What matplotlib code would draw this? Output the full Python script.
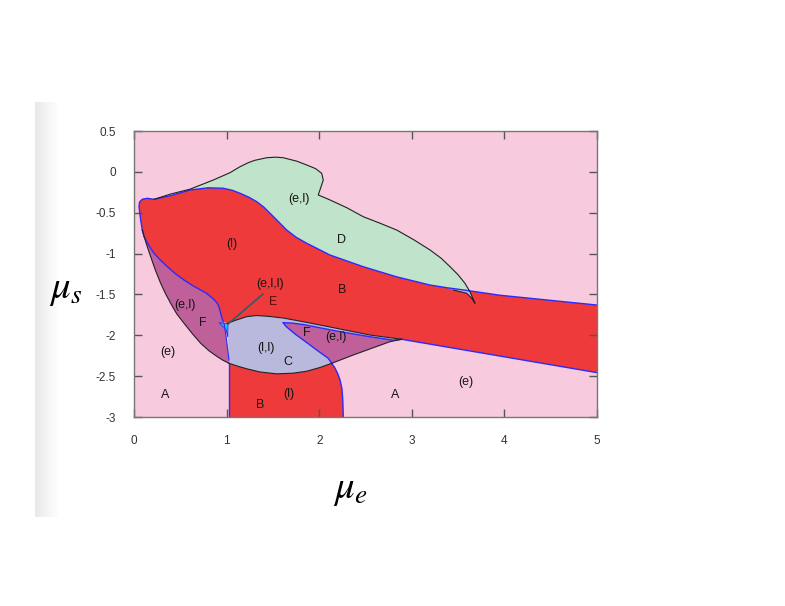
import matplotlib
matplotlib.use("Agg")
import matplotlib.pyplot as plt
import numpy as np

plt.rcParams['mathtext.fontset'] = 'stix'
plt.rcParams['font.family'] = ['Liberation Sans', 'DejaVu Sans']

# region boundaries (mu_e, mu_s)
red_top_x = [0.090, 0.072, 0.054, 0.060, 0.090, 0.144, 0.216, 0.400, 0.605, 0.800, 0.964, 1.060, 1.145,
             1.240, 1.325, 1.400, 1.469, 1.560, 1.649, 1.750, 1.865, 2.117, 2.476, 2.837, 3.197, 3.377,
             3.556, 3.952, 5.0]
red_top_y = [-0.712, -0.589, -0.426, -0.370, -0.335, -0.324, -0.336, -0.290, -0.222, -0.195, -0.201,
             -0.225, -0.262, -0.310, -0.365, -0.430, -0.507, -0.610, -0.712, -0.800, -0.874, -1.018,
             -1.161, -1.285, -1.385, -1.418, -1.445, -1.510, -1.630]
red_bot_x = [5.0, 2.891]
red_bot_y = [-2.457, -2.049]

green_top_x = [0.216, 0.400, 0.605, 0.856, 1.037, 1.145, 1.230, 1.300, 1.433, 1.530, 1.612, 1.760, 1.865,
               1.960, 2.027, 2.044, 1.990, 2.117, 2.300, 2.476, 2.660, 2.837, 3.020, 3.197, 3.320, 3.413,
               3.500, 3.574, 3.628, 3.683]
green_top_y = [-0.336, -0.270, -0.212, -0.100, -0.010, 0.063, 0.110, 0.140, 0.173, 0.180, 0.173, 0.130,
               0.084, 0.040, -0.018, -0.100, -0.283, -0.344, -0.440, -0.549, -0.630, -0.712, -0.830,
               -0.956, -1.060, -1.161, -1.260, -1.364, -1.467, -1.609]
horn_x = [3.683, 3.647, 3.593, 3.448, 3.377, 3.556, 3.620]
horn_y = [-1.609, -1.547, -1.486, -1.446, -1.418, -1.445, -1.455]

fl_top_x = [0.090, 0.108, 0.160, 0.216, 0.290, 0.360, 0.450, 0.540, 0.630, 0.720, 0.780, 0.828, 0.870,
            0.900, 0.922, 0.936, 0.950, 0.964]
fl_top_y = [-0.712, -0.794, -0.900, -0.997, -1.085, -1.161, -1.250, -1.324, -1.390, -1.446, -1.484,
            -1.528, -1.570, -1.609, -1.665, -1.731, -1.790, -1.834]
fl_out_x = [0.090, 0.130, 0.180, 0.230, 0.288, 0.340, 0.396, 0.460, 0.540, 0.630, 0.720, 0.810, 0.900,
            0.960, 1.026]
fl_out_y = [-0.712, -0.870, -1.038, -1.200, -1.364, -1.490, -1.609, -1.735, -1.853, -1.980, -2.098,
            -2.190, -2.262, -2.305, -2.343]
fl_right_x = [1.026, 1.008, 0.990, 0.972]
fl_right_y = [-2.303, -2.140, -1.976, -1.853]

c_top_x = [1.008, 1.101, 1.217, 1.325, 1.469, 1.612, 1.828, 2.189, 2.549, 2.891]
c_top_y = [-1.853, -1.815, -1.772, -1.758, -1.770, -1.789, -1.834, -1.915, -1.997, -2.049]
c_bot_x = [1.026, 1.120, 1.217, 1.361, 1.541, 1.717, 1.865, 2.009, 2.135]
c_bot_y = [-2.343, -2.378, -2.410, -2.449, -2.472, -2.464, -2.440, -2.394, -2.343]

fr_top_x = [1.612, 1.700, 1.828, 2.189, 2.549, 2.800, 2.891]
fr_top_y = [-1.846, -1.850, -1.868, -1.948, -2.018, -2.060, -2.049]
fr_left_x = [1.612, 1.636, 1.666, 1.740, 1.828, 1.900, 1.973, 2.040, 2.098, 2.135]
fr_left_y = [-1.846, -1.885, -1.915, -1.985, -2.058, -2.118, -2.180, -2.235, -2.282, -2.343]
fr_bot_x = [2.135, 2.368, 2.765, 2.891]
fr_bot_y = [-2.343, -2.241, -2.078, -2.049]

lb_right_x = [2.135, 2.170, 2.200, 2.225, 2.245, 2.255, 2.260]
lb_right_y = [-2.343, -2.400, -2.470, -2.547, -2.650, -2.800, -3.0]
lb_left_x = [1.029, 1.029]
lb_left_y = [-3.0, -2.343]

cyan_x = [0.918, 1.015, 1.012, 0.995]
cyan_y = [-1.846, -1.860, -2.020, -1.930]

labels = ["(e,l)", "D", "(l)", "B", "(e,l,l)", "E", "(e,l)", "F", "F", "(e,l)", "(l,l)", "C",
          "(e)", "A", "B", "(l)", "A", "(e)"]
label_x = [1.78, 2.246, 1.058, 2.246, 1.469, 1.501, 0.551, 0.745, 1.868, 2.18, 1.425, 1.663,
           0.367, 0.335, 1.361, 1.674, 2.819, 3.585]
label_y = [-0.332, -0.834, -0.883, -1.446, -1.372, -1.593, -1.63, -1.85, -1.972, -2.02, -2.156, -2.327,
           -2.205, -2.731, -2.853, -2.719, -2.731, -2.572]

pink = '#f7cade'
red = '#ef3a3b'
green = '#c0e3cb'
lav = '#b9b9dd'
purple = '#c0609a'
blue = '#2a2aff'

fig = plt.figure(figsize=(7.85, 6.06), dpi=100)

# faint shadow strip on the left
sh = fig.add_axes([35/785, 89/606, 25/785, 415/606])
sh.imshow(np.linspace(0.91, 1.0, 50)[None, :], cmap='gray', vmin=0, vmax=1, aspect='auto')
sh.axis('off')

ax = fig.add_axes([134/785, 189/606, 463/785, 286/606])
ax.set_facecolor(pink)

# red main band
rx = red_top_x + red_bot_x + c_top_x[::-1] + fl_top_x[::-1]
ry = red_top_y + red_bot_y + c_top_y[::-1] + fl_top_y[::-1]
ax.fill(rx, ry, color=red, lw=0)

# green region D, closed along the top of the red band
n = red_top_x.index(3.556)
m = red_top_x.index(0.216)
gx = green_top_x[:-2] + [3.620] + red_top_x[n:m:-1]
gy = green_top_y[:-2] + [-1.455] + red_top_y[n:m:-1]
ax.fill(gx, gy, color=green, lw=0)
ax.fill(horn_x, horn_y, color=lav, lw=0)

# C region
cx = c_top_x + fr_bot_x[::-1] + c_bot_x[::-1] + fl_right_x[::-1]
cy = c_top_y + fr_bot_y[::-1] + c_bot_y[::-1] + fl_right_y[::-1]
ax.fill(cx, cy, color=lav, lw=0)

# F regions
ax.fill(fl_top_x + fl_right_x[::-1] + fl_out_x[::-1], fl_top_y + fl_right_y[::-1] + fl_out_y[::-1],
        color=purple, lw=0)
ax.fill(fr_top_x + fr_bot_x[::-1] + fr_left_x[::-1], fr_top_y + fr_bot_y[::-1] + fr_left_y[::-1],
        color=purple, lw=0)

# lower B region
ax.fill(c_bot_x + lb_right_x + lb_left_x, c_bot_y + lb_right_y + lb_left_y, color=red, lw=0)

ax.fill(cyan_x, cyan_y, color='#1ec8e8', ec=blue, lw=0.6)

# boundaries
ax.plot(red_top_x, red_top_y, color=blue, lw=1.0)
ax.plot(red_bot_x, red_bot_y, color=blue, lw=1.0)
ax.plot(fl_top_x, fl_top_y, color=blue, lw=1.0)
ax.plot(fr_top_x, fr_top_y, color=blue, lw=1.0)
ax.plot(fr_left_x, fr_left_y, color=blue, lw=1.0)
ax.plot(lb_right_x, lb_right_y, color=blue, lw=1.0)
ax.plot(lb_left_x, lb_left_y, color=blue, lw=1.0)
ax.plot(fl_right_x, fl_right_y, color=blue, lw=0.8)
ax.plot(green_top_x + horn_x[1:4], green_top_y + horn_y[1:4], color='#222222', lw=0.8)
ax.plot(fl_out_x, fl_out_y, color='#222222', lw=0.8)
ax.plot(c_top_x, c_top_y, color='#222222', lw=0.8)
ax.plot(c_bot_x, c_bot_y, color='#222222', lw=0.8)
ax.plot(fr_bot_x, fr_bot_y, color='#222222', lw=0.8)

# pointer to the tiny E region
ax.plot([1.393, 1.015], [-1.495, -1.862], color='#2a6070', lw=1.2)

for t, x, y in zip(labels, label_x, label_y):
    c = '#5c0a0a' if t == 'E' else '#151515'
    ax.text(x, y, t, ha='center', va='center', fontsize=9, color=c)

ax.set_xlim(0, 5)
ax.set_ylim(-3, 0.5)
ax.set_xticks([0, 1, 2, 3, 4, 5])
ax.set_yticks([0.5, 0, -0.5, -1, -1.5, -2, -2.5, -3])
ax.set_yticklabels(['0.5', '0', '-0.5', '-1', '-1.5', '-2', '-2.5', '-3'])
ax.tick_params(direction='in', length=6, width=1, color='#555555', labelsize=8.5,
               labelcolor='#333333', top=True, right=True)
ax.tick_params(axis='x', pad=13)
ax.tick_params(axis='y', pad=13)
for s in ax.spines.values():
    s.set_color('#777777')
    s.set_linewidth(1)

fig.text(66/785, 1 - 290/606, r'$\mu_s$', fontsize=28, ha='center', va='center')
fig.text(350/785, 1 - 490/606, r'$\mu_e$', fontsize=28, ha='center', va='center')

fig.savefig('out.png', dpi=100)
